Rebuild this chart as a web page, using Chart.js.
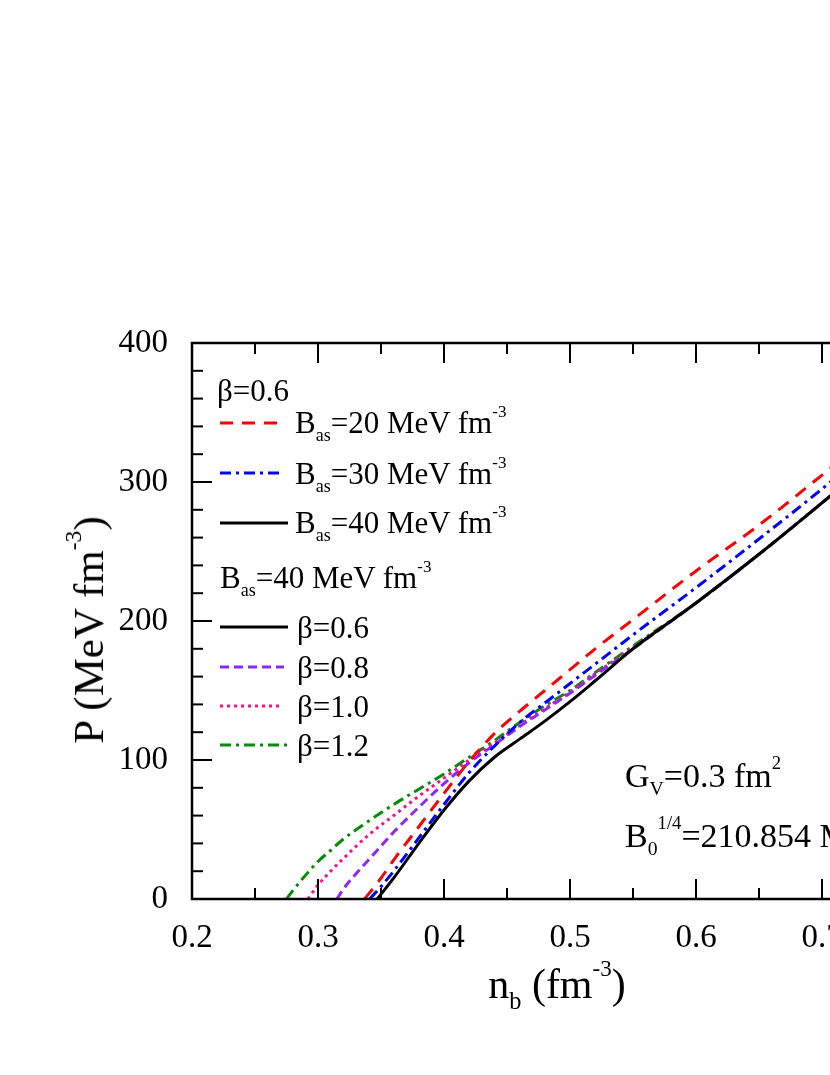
<!DOCTYPE html>
<html>
<head>
<meta charset="utf-8">
<script src="https://cdn.jsdelivr.net/npm/chart.js@4.4.1/dist/chart.umd.min.js"></script>
<style>
  html, body { margin: 0; padding: 0; background: #fff; overflow: hidden; }
  #wrap { position: relative; width: 1000px; height: 1075px; }
  #chart { position: absolute; left: 0; top: 0; }
  .lbl { position: absolute; white-space: nowrap; color: #000;
         font-family: 'Liberation Serif', 'Times New Roman', serif; }
  .sb { font-size: 0.58em; position: relative; top: 0.45em; }
  .sp { font-size: 0.55em; position: relative; top: -0.95em; }
</style>
</head>
<body>
<div id="wrap">
  <canvas id="chart" width="1000" height="1075"></canvas>
</div>
<script>
const SERIF = "'Liberation Serif', 'Times New Roman', serif";

// tick labels
const nbTicks = [0.2, 0.3, 0.4, 0.5, 0.6, 0.7, 0.8];
const pTicks = [0, 100, 200, 300, 400];

// beta = 0.6, B_as = 40 (black solid, also beta = 0.6 in the second group)
const nbBlack = [0.347, 0.36, 0.38, 0.40, 0.42, 0.44, 0.46, 0.48, 0.50, 0.52, 0.55, 0.60, 0.65, 0.70, 0.75, 0.80];
const pBlack  = [0, 15, 40, 64, 85, 102, 115, 128, 142, 157, 180, 213, 248, 285, 323, 362];

// beta = 0.6, B_as = 20
const nbRed = [0.337, 0.35, 0.36, 0.38, 0.40, 0.42, 0.44, 0.46, 0.48, 0.50, 0.52, 0.55, 0.60, 0.65, 0.70, 0.75, 0.80];
const pRed  = [0, 15, 28, 52, 76, 99, 119, 135, 150, 165, 180, 201, 236, 269, 305, 342, 380];

// beta = 0.6, B_as = 30
const nbBlue = [0.341, 0.35, 0.36, 0.38, 0.40, 0.42, 0.44, 0.46, 0.48, 0.50, 0.52, 0.55, 0.60, 0.65, 0.70, 0.75, 0.80];
const pBlue  = [0, 9, 20, 44, 68, 91, 110, 127, 141, 155, 169, 190, 224, 259, 295, 333, 372];

// B_as = 40, beta = 0.8
const nbPurple = [0.315, 0.32, 0.33, 0.34, 0.36, 0.38, 0.40, 0.42, 0.44, 0.46, 0.48, 0.50, 0.52, 0.55, 0.60, 0.65, 0.70, 0.75, 0.80];
const pPurple  = [0, 7, 18, 28, 48, 66, 83, 98, 111, 124, 136, 148, 161, 180, 213, 248, 285, 323, 362];

// B_as = 40, beta = 1.0
const nbPink = [0.292, 0.30, 0.31, 0.32, 0.34, 0.36, 0.38, 0.40, 0.42, 0.44, 0.46, 0.48, 0.50, 0.52, 0.55, 0.60, 0.65, 0.70, 0.75, 0.80];
const pPink  = [0, 10, 20, 29, 46, 60, 74, 87, 100, 112, 125, 137, 149, 162, 181, 213, 248, 285, 323, 362];

// B_as = 40, beta = 1.2
const nbGreen = [0.275, 0.28, 0.29, 0.30, 0.31, 0.32, 0.34, 0.36, 0.38, 0.40, 0.42, 0.44, 0.46, 0.48, 0.50, 0.52, 0.55, 0.60, 0.65, 0.70, 0.75, 0.80];
const pGreen  = [0, 6, 17, 27, 35, 43, 56, 68, 79, 90, 102, 114, 127, 139, 150, 163, 182, 213, 248, 285, 323, 362];

function pts(xs, ys) {
  return xs.map((x, i) => ({ x, y: ys[i] }));
}

const styles = {
  black:  { color: '#000000', dash: [] },
  red:    { color: '#ff0000', dash: [13, 9] },
  blue:   { color: '#0000ff', dash: [11, 5, 3, 5] },
  purple: { color: '#8c28ff', dash: [9, 5] },
  pink:   { color: '#ff1088', dash: [3, 4] },
  green:  { color: '#078a07', dash: [11, 5, 3, 5] },
};

function ds(xs, ys, s) {
  return {
    data: pts(xs, ys),
    borderColor: s.color,
    borderDash: s.dash,
    borderWidth: 3,
    pointRadius: 0,
    fill: false,
    cubicInterpolationMode: 'monotone',
  };
}

/* Frame, inward ticks and legend line samples */
const framePlugin = {
  id: 'frame',
  afterDatasetsDraw(chart) {
    const { ctx, chartArea: a, scales: { x, y } } = chart;
    const seg = (x1, y1, x2, y2) => {
      ctx.beginPath(); ctx.moveTo(x1, y1); ctx.lineTo(x2, y2); ctx.stroke();
    };
    ctx.save();
    ctx.strokeStyle = '#000';
    ctx.setLineDash([]);
    ctx.lineWidth = 2.5;
    ctx.strokeRect(a.left, a.top, a.right - a.left, a.bottom - a.top);
    ctx.lineWidth = 2;
    for (let i = 0; i <= 12; i++) {
      const px = x.getPixelForValue(0.2 + i * 0.05);
      const len = i % 2 === 0 ? 20 : 11;
      seg(px, a.bottom, px, a.bottom - len);
      seg(px, a.top, px, a.top + len);
    }
    for (let i = 0; i <= 20; i++) {
      const py = y.getPixelForValue(i * 20);
      const len = i % 5 === 0 ? 20 : 11;
      seg(a.left, py, a.left + len, py);
      seg(a.right, py, a.right - len, py);
    }

    const samples = [
      [styles.red, 423, 282],
      [styles.blue, 473, 282],
      [styles.black, 523, 288],
      [styles.black, 627, 288],
      [styles.purple, 667, 284],
      [styles.pink, 706, 282],
      [styles.green, 745, 288],
    ];
    ctx.lineWidth = 3;
    samples.forEach(([s, sy, ex]) => {
      ctx.strokeStyle = s.color;
      ctx.setLineDash(s.dash);
      seg(220, sy, ex, sy);
    });
    ctx.restore();
  },
};

new Chart(document.getElementById('chart'), {
  type: 'line',
  data: {
    datasets: [
      ds(nbBlack, pBlack, styles.black),
      ds(nbRed, pRed, styles.red),
      ds(nbBlue, pBlue, styles.blue),
      ds(nbPurple, pPurple, styles.purple),
      ds(nbPink, pPink, styles.pink),
      ds(nbGreen, pGreen, styles.green),
    ],
  },
  options: {
    responsive: false,
    animation: false,
    layout: { padding: { top: 343, right: 52, left: 0, bottom: 0 } },
    plugins: { legend: { display: false }, tooltip: { enabled: false } },
    scales: {
      x: {
        type: 'linear',
        min: 0.2,
        max: 0.8,
        grid: { display: false, drawTicks: false },
        border: { display: false },
        afterFit: (s) => { s.height = 176; },
        afterBuildTicks: (s) => { s.ticks = nbTicks.map((v) => ({ value: v })); },
        ticks: {
          color: '#000',
          font: { family: SERIF, size: 33 },
          padding: 20,
          maxRotation: 0,
          autoSkip: false,
          callback: (v) => Number(v).toFixed(1),
        },
      },
      y: {
        type: 'linear',
        min: 0,
        max: 400,
        grid: { display: false, drawTicks: false },
        border: { display: false },
        afterFit: (s) => { s.width = 192; },
        afterBuildTicks: (s) => { s.ticks = pTicks.map((v) => ({ value: v })); },
        ticks: {
          color: '#000',
          font: { family: SERIF, size: 33 },
          padding: 24,
          callback: (v) => String(v),
        },
      },
    },
  },
  plugins: [framePlugin],
});

/* HTML text: legend, notes, axis titles */
const wrap = document.getElementById('wrap');

function addText(html, x, baseline, size, extra) {
  const el = document.createElement('div');
  el.className = 'lbl';
  el.innerHTML = html;
  el.style.fontSize = size + 'px';
  el.style.lineHeight = size + 'px';
  el.style.left = x + 'px';
  el.style.top = (baseline - 0.8375 * size) + 'px';
  if (extra) Object.assign(el.style, extra);
  wrap.appendChild(el);
  return el;
}

const LEG = 31;
addText('β=0.6', 217, 401, LEG);
addText('B<span class="sb">as</span>=20 MeV fm<span class="sp">-3</span>', 295, 433, LEG);
addText('B<span class="sb">as</span>=30 MeV fm<span class="sp">-3</span>', 295, 484, LEG);
addText('B<span class="sb">as</span>=40 MeV fm<span class="sp">-3</span>', 295, 533, LEG);
addText('B<span class="sb">as</span>=40 MeV fm<span class="sp">-3</span>', 220, 588, LEG);
addText('β=0.6', 297, 638, LEG);
addText('β=0.8', 297, 678, LEG);
addText('β=1.0', 297, 717, LEG);
addText('β=1.2', 297, 756, LEG);

addText('G<span class="sb">V</span>=0.3 fm<span class="sp">2</span>', 625, 787, 34);
addText('B<span class="sb">0</span><span class="sp">1/4</span>=210.854 MeV', 625, 847, 34);

// x title, centred
addText('n<span class="sb">b</span> (fm<span class="sp">-3</span>)', 557, 998, 42, { transform: 'translateX(-50%)' });

// y title, rotated around its centre
const yt = addText('P (MeV fm<span class="sp">-3</span>)', 0, 0, 43);
yt.style.left = (107 - 0.3375 * 43) + 'px';
yt.style.top = '630px';
yt.style.transform = 'translate(-50%, -50%) rotate(-90deg)';
</script>
</body>
</html>
